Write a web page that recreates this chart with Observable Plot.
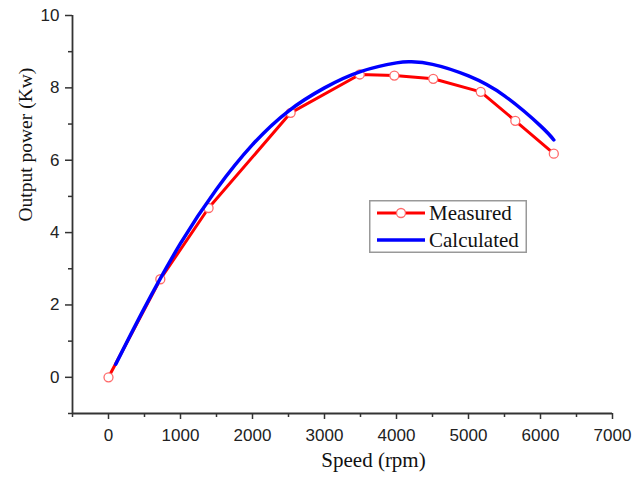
<!DOCTYPE html>
<html>
<head>
<meta charset="utf-8">
<script src="https://cdn.jsdelivr.net/npm/d3@7"></script>
<script src="https://cdn.jsdelivr.net/npm/@observablehq/plot@0.6"></script>
<style>
  html, body { margin: 0; padding: 0; background: #fff; }
  #wrap { position: relative; width: 639px; height: 483px; }
  #legend { position: absolute; left: 369px; top: 200px; }
</style>
</head>
<body>
<div id="wrap"></div>
<script>
// Measured data (speed rpm, output power kW)
const measuredSpeed = [0, 720, 1390, 2530, 3490, 3970, 4510, 5170, 5650, 6185];
const measuredPower = [0, 2.71, 4.68, 7.31, 8.37, 8.34, 8.25, 7.89, 7.09, 6.18];

// Calculated curve
const calcSpeed = [100, 500, 1000, 1500, 2000, 2500, 3000, 3500, 4000, 4200, 4500, 5000, 5500, 6000, 6185];
const calcPower = [0.36, 1.92, 3.70, 5.20, 6.43, 7.36, 8.00, 8.45, 8.69, 8.72, 8.65, 8.33, 7.78, 6.95, 6.56];

const xMajorTicks = [0, 1000, 2000, 3000, 4000, 5000, 6000, 7000];
const xMinorTicks = [-500, 500, 1500, 2500, 3500, 4500, 5500, 6500];
const yMajorTicks = [0, 2, 4, 6, 8, 10];
const yMinorTicks = [-1, 1, 3, 5, 7, 9];

const seriesNames = ["Measured", "Calculated"];

const measured = measuredSpeed.map((s, i) => ({speed: s, power: measuredPower[i]}));
const calculated = calcSpeed.map((s, i) => ({speed: s, power: calcPower[i]}));

const axisColor = "#333";
const tickFont = "Liberation Sans, Arial, sans-serif";
const titleFont = "Liberation Serif, Times New Roman, serif";

const chart = Plot.plot({
  width: 639,
  height: 483,
  marginLeft: 72,
  marginRight: 27,
  marginTop: 15,
  marginBottom: 70,
  style: {fontFamily: tickFont, fontSize: "17px", color: "#222", background: "#fff"},
  x: {domain: [-500, 7000], axis: null},
  y: {domain: [-1, 10], axis: null},
  marks: [
    Plot.axisX(xMinorTicks, {anchor: "bottom", tickSize: 4, text: null, stroke: axisColor, strokeWidth: 1.5, label: null}),
    Plot.axisX(xMajorTicks, {anchor: "bottom", tickSize: 6, tickPadding: 9, stroke: axisColor, strokeWidth: 1.5, fontSize: 17, fill: "#222", label: null, tickFormat: d => String(d)}),
    Plot.axisY(yMinorTicks, {anchor: "left", tickSize: 4, text: null, stroke: axisColor, strokeWidth: 1.5, label: null}),
    Plot.axisY(yMajorTicks, {anchor: "left", tickSize: 7, tickPadding: 6, stroke: axisColor, strokeWidth: 1.5, fontSize: 17, fill: "#222", label: null, tickFormat: d => String(d)}),
    Plot.ruleY([-1], {stroke: axisColor, strokeWidth: 1.8}),
    Plot.ruleX([-500], {stroke: axisColor, strokeWidth: 1.8}),
    Plot.line(measured, {x: "speed", y: "power", stroke: "#ff0000", strokeWidth: 3}),
    Plot.dot(measured, {x: "speed", y: "power", r: 4.5, fill: "#fff", stroke: "#ff6a6a", strokeWidth: 1.3}),
    Plot.line(calculated, {x: "speed", y: "power", stroke: "#0000ff", strokeWidth: 3.5, curve: "natural"}),
    Plot.text(["Speed (rpm)"], {text: d => d, frameAnchor: "bottom", dy: 53, dx: 31, fontFamily: titleFont, fontSize: 21, fill: "#111"}),
    Plot.text(["Output power (Kw)"], {text: d => d, frameAnchor: "left", rotate: -90, dx: -47, dy: 7, fontFamily: titleFont, fontSize: 19.5, fill: "#111"})
  ]
});

const wrap = document.getElementById("wrap");
wrap.appendChild(chart);

// Legend overlay
const lw = 158, lh = 53;
const legend = d3.create("svg").attr("id", "legend").attr("width", lw).attr("height", lh);
legend.append("rect").attr("x", 0.75).attr("y", 0.75).attr("width", lw - 1.5).attr("height", lh - 1.5)
  .attr("fill", "#fff").attr("stroke", "#999").attr("stroke-width", 1.5);
const rowsY = [13, 40];
const colors = ["#ff0000", "#0000ff"];
seriesNames.forEach((name, i) => {
  legend.append("line").attr("x1", 8).attr("x2", 56).attr("y1", rowsY[i]).attr("y2", rowsY[i])
    .attr("stroke", colors[i]).attr("stroke-width", i === 0 ? 3 : 3.5);
  if (i === 0) legend.append("circle").attr("cx", 32).attr("cy", rowsY[i]).attr("r", 4.5)
    .attr("fill", "#fff").attr("stroke", "#ff6a6a").attr("stroke-width", 1.3);
  legend.append("text").attr("x", 60).attr("y", rowsY[i]).attr("dy", "0.35em")
    .attr("font-family", titleFont).attr("font-size", 21).attr("fill", "#111").text(name);
});
wrap.appendChild(legend.node());
</script>
</body>
</html>
